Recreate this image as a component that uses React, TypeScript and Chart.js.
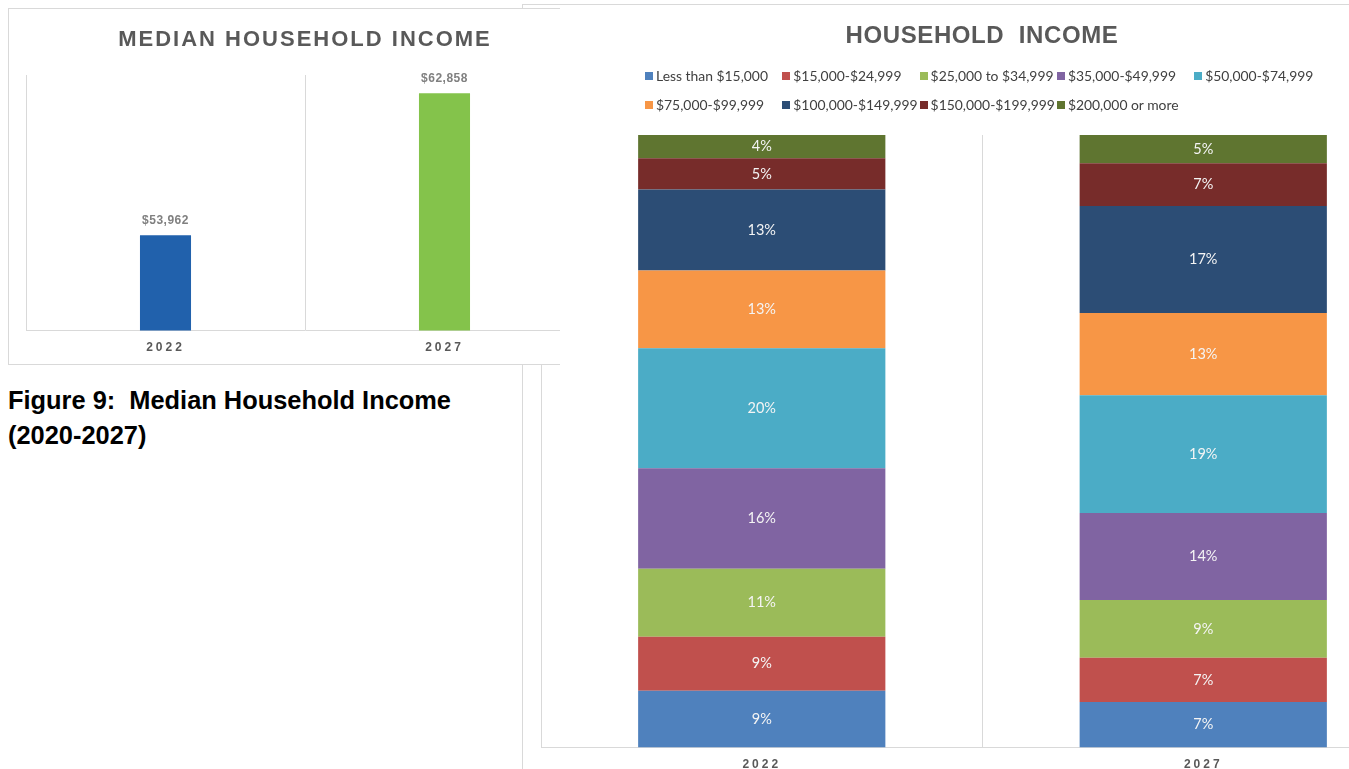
import React, { useEffect, useRef } from 'react';
import { Chart, registerables } from 'chart.js';

Chart.register(...registerables);

// ---------- Data: median household income ----------
const medianYears = ['2022', '2027'];
const medianIncome = [53962, 62858];
const medianColors = ['#2161ac', '#84c34b'];
const medianAxisMin = 48000;
const medianAxisMax = 64000;

// ---------- Data: household income distribution (% of households) ----------
const distributionYears = ['2022', '2027'];
const bracketLabels = [
  'Less than $15,000',
  '$15,000-$24,999',
  '$25,000 to $34,999',
  '$35,000-$49,999',
  '$50,000-$74,999',
  '$75,000-$99,999',
  '$100,000-$149,999',
  '$150,000-$199,999',
  '$200,000 or more',
];
const bracketColors = [
  '#4f81bd',
  '#c0504d',
  '#9bbb59',
  '#8064a2',
  '#4bacc6',
  '#f79646',
  '#2c4d75',
  '#772c2a',
  '#5f7530',
];
const shareLessThan15k = [9.3, 7.45];
const share15kTo25k = [8.8, 7.2];
const share25kTo35k = [11.1, 9.45];
const share35kTo50k = [16.4, 14.2];
const share50kTo75k = [19.6, 19.2];
const share75kTo100k = [12.7, 13.45];
const share100kTo150k = [13.2, 17.45];
const share150kTo200k = [5.1, 7.0];
const share200kPlus = [3.8, 4.6];
const bracketShares = [
  shareLessThan15k,
  share15kTo25k,
  share25kTo35k,
  share35kTo50k,
  share50kTo75k,
  share75kTo100k,
  share100kTo150k,
  share150kTo200k,
  share200kPlus,
];

const FONT_SANS = "'Liberation Sans', Arial, sans-serif";
const FONT_LABEL = "Lato, 'Noto Sans', sans-serif";
const AXIS_GRAY = '#595959';
const GRID = '#d9d9d9';

function spacingPlugin(id: string, spacing: string) {
  return {
    id,
    beforeDraw(chart: any) {
      chart.ctx.letterSpacing = spacing;
    },
  };
}

const medianValuePlugin = {
  id: 'medianValues',
  afterDatasetsDraw(chart: any) {
    const ctx = chart.ctx;
    const meta = chart.getDatasetMeta(0);
    const data = chart.data.datasets[0].data as number[];
    ctx.save();
    ctx.letterSpacing = '0.5px';
    ctx.font = `bold 12px ${FONT_SANS}`;
    ctx.fillStyle = '#808080';
    ctx.textAlign = 'center';
    ctx.textBaseline = 'alphabetic';
    meta.data.forEach((el: any, i: number) => {
      ctx.fillText('$' + data[i].toLocaleString('en-US'), el.x, el.y - 11);
    });
    ctx.restore();
  },
};

const stackValuePlugin = {
  id: 'stackValues',
  afterDatasetsDraw(chart: any) {
    const ctx = chart.ctx;
    ctx.save();
    ctx.letterSpacing = '0px';
    ctx.font = `14.5px ${FONT_LABEL}`;
    ctx.fillStyle = '#f4f4f4';
    ctx.textAlign = 'center';
    ctx.textBaseline = 'middle';
    chart.data.datasets.forEach((ds: any, di: number) => {
      const meta = chart.getDatasetMeta(di);
      meta.data.forEach((el: any, i: number) => {
        const p = el.getProps(['x', 'y', 'base'], true);
        ctx.fillText(Math.round(ds.data[i]) + '%', p.x, (p.y + p.base) / 2);
      });
    });
    ctx.restore();
  },
};

function MedianChart() {
  const ref = useRef<HTMLCanvasElement>(null);
  useEffect(() => {
    const chart = new Chart(ref.current as HTMLCanvasElement, {
      type: 'bar',
      data: {
        labels: medianYears,
        datasets: [
          {
            data: medianIncome,
            backgroundColor: medianColors,
            borderWidth: 0,
            barPercentage: 0.183,
            categoryPercentage: 1,
          },
        ],
      },
      options: {
        responsive: false,
        animation: false,
        layout: { padding: { left: 17, right: 17, top: 66, bottom: 0 } },
        plugins: {
          legend: { display: false },
          title: { display: false },
          tooltip: { enabled: false },
        },
        scales: {
          x: {
            grid: { color: GRID, offset: true, drawTicks: false },
            border: { color: GRID },
            ticks: {
              color: AXIS_GRAY,
              font: { family: FONT_SANS, size: 12, weight: 'bold' },
              padding: 10,
            },
          },
          y: { display: false, min: medianAxisMin, max: medianAxisMax },
        },
      },
      plugins: [spacingPlugin('medianSpacing', '3px'), medianValuePlugin],
    } as any);
    return () => chart.destroy();
  }, []);
  return (
    <canvas
      ref={ref}
      width={592}
      height={356}
      style={{ position: 'absolute', left: 0, top: 0, width: 592, height: 356 }}
    />
  );
}

function HouseholdChart() {
  const ref = useRef<HTMLCanvasElement>(null);
  useEffect(() => {
    const chart = new Chart(ref.current as HTMLCanvasElement, {
      type: 'bar',
      data: {
        labels: distributionYears,
        datasets: bracketLabels.map((label, i) => ({
          label,
          data: bracketShares[i],
          backgroundColor: bracketColors[i],
          borderWidth: 0,
          barPercentage: 0.56,
          categoryPercentage: 1,
        })),
      },
      options: {
        responsive: false,
        animation: false,
        layout: { padding: { left: 18, right: 19, top: 130, bottom: 23 } },
        plugins: {
          legend: { display: false },
          title: { display: false },
          tooltip: { enabled: false },
        },
        scales: {
          x: {
            stacked: true,
            grid: { color: GRID, offset: true, drawTicks: false },
            border: { color: GRID },
            ticks: {
              color: AXIS_GRAY,
              font: { family: FONT_SANS, size: 12, weight: 'bold' },
              padding: 10,
            },
          },
          y: { display: false, stacked: true, min: 0, max: 100 },
        },
      },
      plugins: [spacingPlugin('hhSpacing', '3px'), stackValuePlugin],
    } as any);
    return () => chart.destroy();
  }, []);
  return (
    <canvas
      ref={ref}
      width={920}
      height={800}
      style={{ position: 'absolute', left: 0, top: 0, width: 920, height: 800 }}
    />
  );
}

function Legend() {
  return (
    <div
      style={{
        position: 'absolute',
        left: 122,
        top: 56,
        display: 'grid',
        gridTemplateColumns: 'repeat(5, 137.3px)',
        gridAutoRows: '29px',
      }}
    >
      {bracketLabels.map((label, i) => (
        <div key={label} style={{ display: 'flex', alignItems: 'center', whiteSpace: 'nowrap' }}>
          <span
            style={{
              display: 'inline-block',
              width: 8,
              height: 8,
              background: bracketColors[i],
              marginRight: 3,
              flex: 'none',
            }}
          />
          <span style={{ fontFamily: FONT_LABEL, fontSize: 13.9, color: '#404040' }}>{label}</span>
        </div>
      ))}
    </div>
  );
}

export default function App() {
  return (
    <div
      style={{
        position: 'fixed',
        left: 0,
        top: 0,
        width: 1349,
        height: 769,
        overflow: 'hidden',
        background: '#ffffff',
      }}
    >
      {/* Right panel: household income distribution */}
      <div
        style={{
          position: 'absolute',
          left: 522,
          top: 4,
          width: 1200,
          height: 900,
          borderLeft: `1px solid ${GRID}`,
          borderTop: `1px solid ${GRID}`,
          background: '#ffffff',
        }}
      >
        <HouseholdChart />
        <div
          style={{
            position: 'absolute',
            left: 459,
            top: 16,
            transform: 'translateX(-50%)',
            fontFamily: FONT_SANS,
            fontWeight: 'bold',
            fontSize: 24,
            lineHeight: '28px',
            letterSpacing: '0.6px',
            color: AXIS_GRAY,
            whiteSpace: 'pre',
          }}
        >
          {'HOUSEHOLD  INCOME'}
        </div>
        <Legend />
      </div>

      {/* Left panel: median household income */}
      <div
        style={{
          position: 'absolute',
          left: 8,
          top: 8,
          width: 552,
          height: 357,
          boxSizing: 'border-box',
          borderTop: `1px solid ${GRID}`,
          borderLeft: `1px solid ${GRID}`,
          borderBottom: `1px solid ${GRID}`,
          overflow: 'hidden',
          background: '#ffffff',
          zIndex: 2,
        }}
      >
        <MedianChart />
        <div
          style={{
            position: 'absolute',
            left: 296,
            top: 17,
            transform: 'translateX(-50%)',
            fontFamily: FONT_SANS,
            fontWeight: 'bold',
            fontSize: 22,
            lineHeight: '26px',
            letterSpacing: '2px',
            color: AXIS_GRAY,
            whiteSpace: 'pre',
          }}
        >
          {'MEDIAN HOUSEHOLD INCOME'}
        </div>
      </div>

      {/* Caption */}
      <div
        style={{
          position: 'absolute',
          left: 8,
          top: 383,
          fontFamily: FONT_SANS,
          fontWeight: 'bold',
          fontSize: 25.4,
          lineHeight: '35px',
          color: '#000000',
          whiteSpace: 'pre',
        }}
      >
        {'Figure 9:  Median Household Income\n(2020-2027)'}
      </div>
    </div>
  );
}
